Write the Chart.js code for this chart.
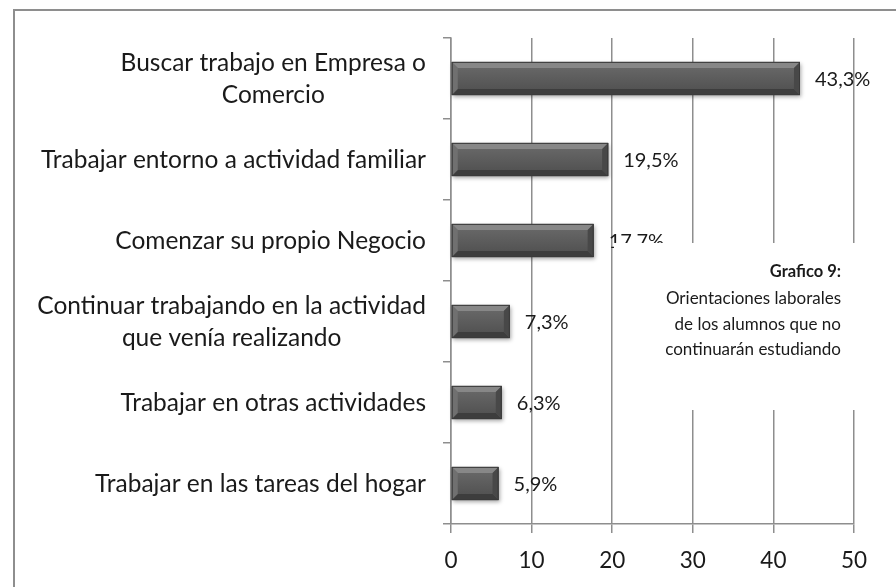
<!DOCTYPE html>
<html>
<head>
<meta charset="utf-8">
<script src="https://cdn.jsdelivr.net/npm/chart.js@4.4.0/dist/chart.umd.min.js"></script>
<style>
html, body { margin: 0; padding: 0; background: #fff; }
#wrap { position: relative; width: 896px; height: 587px; overflow: hidden; }
#frame { position: absolute; left: 13px; top: 9px; width: 1000px; height: 1000px;
         border-left: 2px solid #8e8e8e; border-top: 2px solid #8e8e8e; }
canvas { position: absolute; left: 0; top: 0; }
</style>
</head>
<body>
<div id="wrap">
  <div id="frame"></div>
  <canvas id="chart" width="896" height="587"></canvas>
</div>
<script>
const categories = [
    ['Buscar trabajo en Empresa o', 'Comercio'],
    ['Trabajar entorno a actividad familiar'],
    ['Comenzar su propio Negocio'],
    ['Continuar trabajando en la actividad', 'que venía realizando'],
    ['Trabajar en otras actividades'],
    ['Trabajar en las tareas del hogar']
];
const values = [43.3, 19.5, 17.7, 7.3, 6.3, 5.9];
const xTicks = [0, 10, 20, 30, 40, 50];
const noteTitle = 'Grafico 9:';
const noteLines = ['Orientaciones laborales', 'de los alumnos que no', 'continuarán estudiando'];

const FONT = 'Lato, "Open Sans", sans-serif';
const GRID = '#8e8e8e';

function formatPct(v) {
    return v.toFixed(1).replace('.', ',') + '%';
}

// shadow under each bar
const barShadow = {
    id: 'barShadow',
    beforeDatasetsDraw(chart) {
        const ctx = chart.ctx;
        ctx.save();
        chart.getDatasetMeta(0).data.forEach(bar => {
            const top = bar.y - bar.height / 2;
            ctx.shadowColor = 'rgba(0,0,0,0.35)';
            ctx.shadowBlur = 4;
            ctx.shadowOffsetX = 1;
            ctx.shadowOffsetY = 2;
            ctx.fillStyle = '#555';
            ctx.fillRect(bar.base, top, bar.x - bar.base, bar.height);
        });
        ctx.restore();
    }
};

// bevel look on bars, value labels, category labels and note box
const decorations = {
    id: 'decorations',
    afterDatasetsDraw(chart) {
        const ctx = chart.ctx;
        const meta = chart.getDatasetMeta(0);
        ctx.save();

        meta.data.forEach(bar => {
            const L = bar.base, R = bar.x;
            const T = bar.y - bar.height / 2, B = bar.y + bar.height / 2;
            const b = Math.min(6, (R - L) / 2);
            const g = ctx.createLinearGradient(0, T + b, 0, B - b);
            g.addColorStop(0, '#666666');
            g.addColorStop(1, '#535353');
            ctx.fillStyle = g;
            ctx.fillRect(L, T, R - L, B - T);
            const poly = (pts, col) => {
                ctx.beginPath();
                ctx.moveTo(pts[0][0], pts[0][1]);
                pts.slice(1).forEach(p => ctx.lineTo(p[0], p[1]));
                ctx.closePath();
                ctx.fillStyle = col;
                ctx.fill();
            };
            poly([[L, T], [R, T], [R - b, T + b], [L + b, T + b]], '#878787');
            poly([[L, B], [R, B], [R - b, B - b], [L + b, B - b]], '#3d3d3d');
            poly([[L, T], [L + b, T + b], [L + b, B - b], [L, B]], '#707070');
            poly([[R, T], [R - b, T + b], [R - b, B - b], [R, B]], '#484848');
            ctx.strokeStyle = '#3a3a3a';
            ctx.lineWidth = 1;
            ctx.strokeRect(L + 0.5, T + 0.5, R - L - 1, B - T - 1);
        });

        // value labels
        ctx.font = '20px ' + FONT;
        ctx.fillStyle = '#1a1a1a';
        ctx.textAlign = 'left';
        ctx.textBaseline = 'middle';
        meta.data.forEach((bar, i) => {
            ctx.fillText(formatPct(values[i]), bar.x + 15, bar.y + 1);
        });

        // category labels: block right aligned, lines centred
        const yScale = chart.scales.y;
        ctx.font = '24.5px ' + FONT;
        ctx.textAlign = 'center';
        categories.forEach((lines, i) => {
            const y = yScale.getPixelForValue(i);
            const w = Math.max(...lines.map(s => ctx.measureText(s).width));
            const cx = yScale.right - 25 - w / 2;
            lines.forEach((s, j) => {
                ctx.fillText(s, cx, y + 1 + (j - (lines.length - 1) / 2) * 32);
            });
        });

        // note box
        ctx.fillStyle = '#fff';
        ctx.fillRect(614, 243, 250, 167);
        ctx.fillStyle = '#1a1a1a';
        ctx.textAlign = 'right';
        ctx.textBaseline = 'alphabetic';
        ctx.font = 'bold 16.5px ' + FONT;
        ctx.fillText(noteTitle, 841, 277);
        ctx.font = '17px ' + FONT;
        noteLines.forEach((s, j) => ctx.fillText(s, 841, 304 + j * 25.5));

        ctx.restore();
    }
};

new Chart(document.getElementById('chart'), {
    type: 'bar',
    data: {
        labels: categories,
        datasets: [{
            data: values,
            backgroundColor: '#5a5a5a',
            borderWidth: 0,
            barPercentage: 0.41,
            categoryPercentage: 1
        }]
    },
    options: {
        indexAxis: 'y',
        responsive: false,
        animation: false,
        layout: { padding: { top: 38, right: 42, left: 0, bottom: 0 } },
        plugins: { legend: { display: false }, tooltip: { enabled: false } },
        scales: {
            x: {
                min: xTicks[0],
                max: xTicks[xTicks.length - 1],
                afterBuildTicks: s => { s.ticks = xTicks.map(v => ({ value: v })); },
                afterFit: s => { s.height = 63; },
                grid: { color: GRID, lineWidth: 1.5, tickLength: 9 },
                border: { color: GRID, width: 1.5 },
                ticks: { font: { family: FONT, size: 22.5 }, color: '#1a1a1a', padding: 14 }
            },
            y: {
                afterFit: s => { s.width = 451; },
                grid: { drawOnChartArea: false, offset: true, tickLength: 8, color: GRID, lineWidth: 1.5 },
                border: { color: GRID, width: 1.5 },
                ticks: { display: false }
            }
        }
    },
    plugins: [barShadow, decorations]
});
</script>
</body>
</html>
